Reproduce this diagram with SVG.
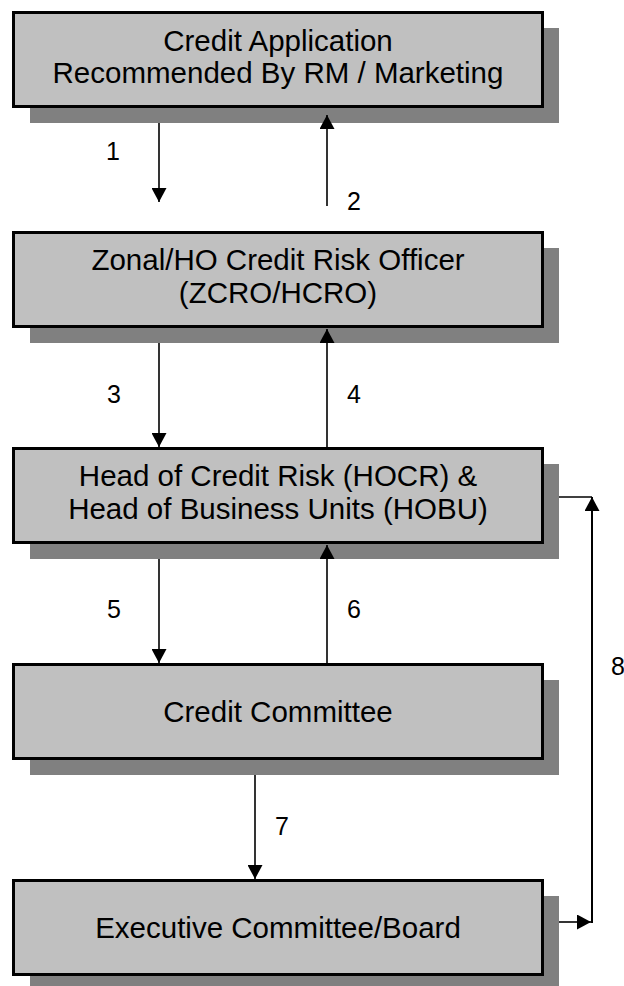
<svg xmlns="http://www.w3.org/2000/svg" width="624" height="986" viewBox="0 0 624 986">
<defs>
<style>
.shadow{fill:#808080;stroke:none}
.box{fill:#c0c0c0;stroke:#000;stroke-width:3}
.t{font-family:"Liberation Sans",Arial,sans-serif;font-size:29.5px;fill:#000;text-anchor:middle}
.n{font-family:"Liberation Sans",Arial,sans-serif;font-size:25px;fill:#000;text-anchor:middle}
.c{stroke:#000;stroke-width:1.6;fill:none}
.ca{stroke:#000;stroke-width:1.6;fill:none;marker-end:url(#ah)}
</style>
<marker id="ah" viewBox="0 0 14 15" refX="14" refY="7.5" markerWidth="14" markerHeight="15" markerUnits="userSpaceOnUse" orient="auto">
<path d="M0,0 L14,7.5 L0,15 z" fill="#000"/>
</marker>
</defs>
<rect width="624" height="986" fill="#fff"/>
<g id="node1">
<rect class="shadow" x="30" y="28" width="529" height="95"/>
<rect class="box" x="13.5" y="12.5" width="529" height="94"/>
<text class="t" x="278" y="51">Credit Application</text>
<text class="t" x="278" y="83">Recommended By RM / Marketing</text>
</g>
<g id="node2">
<rect class="shadow" x="30" y="248" width="529" height="95"/>
<rect class="box" x="13.5" y="232.5" width="529" height="94"/>
<text class="t" x="278" y="270">Zonal/HO Credit Risk Officer</text>
<text class="t" x="278" y="303">(ZCRO/HCRO)</text>
</g>
<g id="node3">
<rect class="shadow" x="30" y="464" width="529" height="95"/>
<rect class="box" x="13.5" y="448.5" width="529" height="94"/>
<text class="t" x="278" y="486">Head of Credit Risk (HOCR) &amp;</text>
<text class="t" x="278" y="519">Head of Business Units (HOBU)</text>
</g>
<g id="node4">
<rect class="shadow" x="30" y="680" width="529" height="95"/>
<rect class="box" x="13.5" y="664.5" width="529" height="94"/>
<text class="t" x="278" y="722">Credit Committee</text>
</g>
<g id="node5">
<rect class="shadow" x="30" y="896" width="529" height="95"/>
<rect class="box" x="13.5" y="880.5" width="529" height="94"/>
<text class="t" x="278" y="938">Executive Committee/Board</text>
</g>
<g id="connectors">
<line class="ca" x1="159" y1="123" x2="159" y2="202"/>
<line class="ca" x1="327" y1="206" x2="327" y2="115"/>
<line class="ca" x1="159" y1="343" x2="159" y2="447"/>
<line class="ca" x1="327" y1="447" x2="327" y2="329"/>
<line class="ca" x1="159" y1="559" x2="159" y2="663"/>
<line class="ca" x1="327" y1="663" x2="327" y2="545"/>
<line class="ca" x1="255" y1="775" x2="255" y2="879"/>
<line class="ca" x1="559" y1="922" x2="591" y2="922"/>
<line class="ca" x1="592" y1="923" x2="592" y2="497" style="stroke-width:2"/>
<line class="c" x1="559" y1="497" x2="592" y2="497"/>
<text class="n" x="113" y="160">1</text>
<text class="n" x="354" y="210">2</text>
<text class="n" x="114" y="403">3</text>
<text class="n" x="354" y="403">4</text>
<text class="n" x="114" y="618">5</text>
<text class="n" x="354" y="618">6</text>
<text class="n" x="282" y="835">7</text>
<text class="n" x="618" y="675">8</text>
</g>
</svg>
